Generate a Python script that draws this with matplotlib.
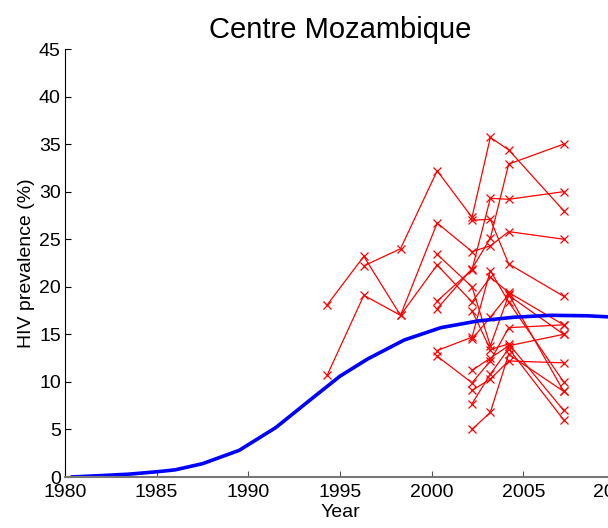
import numpy as np
import matplotlib
matplotlib.use("Agg")
import matplotlib.pyplot as plt

plt.rcParams['font.family'] = ['Liberation Sans', 'DejaVu Sans']

# Model curve (blue)
model_years = [1980.3, 1982, 1983.5, 1985, 1986, 1987.5, 1989.5, 1991.5, 1993.5, 1995,
               1996.5, 1998.5, 2000.5, 2002.5, 2004.5, 2006.5, 2008.5, 2010]
model_prev = [0.0, 0.15, 0.3, 0.55, 0.75, 1.4, 2.8, 5.2, 8.3, 10.6,
              12.4, 14.4, 15.7, 16.4, 16.8, 17.0, 16.95, 16.8]

# Survey years (columns of red points)
survey_years = [1994.3, 1996.3, 1998.3, 2000.3, 2002.2, 2003.2, 2004.2, 2007.2]
nan = None
site_01 = [18.1, 23.2, 17.0, 26.7, 23.7, 24.3, 25.8, 25.0]
site_02 = [10.7, 19.1, 17.0, 22.3, 18.4, 21.0, 19.4, 16.0]
site_03 = [nan, 22.2, 24.0, 32.2, 27.3, 35.7, 34.4, 28.0]
site_04 = [nan, nan, nan, 23.4, 20.0, 13.8, 19.1, 15.0]
site_05 = [nan, nan, nan, 18.5, 21.8, 29.3, 29.2, 30.0]
site_06 = [nan, nan, nan, 17.7, 21.9, 25.1, 32.9, 35.0]
site_07 = [nan, nan, nan, 13.3, 14.7, 21.7, 18.4, 10.0]
site_08 = [nan, nan, nan, 12.7, 9.9, 12.2, 15.7, 16.0]
site_09 = [nan, nan, nan, nan, 27.0, 27.1, 22.4, 19.0]
site_10 = [nan, nan, nan, nan, 17.5, 13.4, 14.0, 7.0]
site_11 = [nan, nan, nan, nan, 7.7, 10.8, 13.5, 6.0]
site_12 = [nan, nan, nan, nan, 5.0, 6.8, 12.9, 9.0]
site_13 = [nan, nan, nan, nan, 9.1, 10.3, 12.2, 12.0]
site_14 = [nan, nan, nan, nan, 14.5, 16.8, 19.2, 9.0]
site_15 = [nan, nan, nan, nan, 11.2, 12.5, 13.8, 15.0]
sites = [site_01, site_02, site_03, site_04, site_05, site_06, site_07, site_08,
         site_09, site_10, site_11, site_12, site_13, site_14, site_15]

xticks = [1980, 1985, 1990, 1995, 2000, 2005, 2010]
yticks = [0, 5, 10, 15, 20, 25, 30, 35, 40, 45]

fig = plt.figure(figsize=(6.08, 5.28), dpi=100)
ax = fig.add_axes([65/608, 1 - 477/528, 550/608, 428/528])

for s in sites:
    xs = [y for y, v in zip(survey_years, s) if v is not None]
    vs = [v for v in s if v is not None]
    ax.plot(xs, vs, color='red', lw=0.9, marker='x', markersize=5.5, mew=0.9)

ax.plot(model_years, model_prev, color='#0000ff', lw=2.6, solid_capstyle='butt')

ax.set_xlim(1980, 2010)
ax.set_ylim(0, 45)
ax.set_xticks(xticks)
ax.set_yticks(yticks)
ax.tick_params(direction='in', length=4, labelsize=14, width=0.8)
ax.tick_params(axis='x', colors='#555555', labelcolor='black', pad=5)
ax.tick_params(axis='y', pad=3)
ax.spines['top'].set_visible(False)
ax.spines['right'].set_visible(False)
ax.spines['bottom'].set_color('#777777')
ax.spines['bottom'].set_linewidth(1.5)
ax.set_xlabel('Year', fontsize=14, labelpad=2)
ax.set_ylabel('HIV prevalence (%)', fontsize=14, labelpad=3)
ax.set_title('Centre Mozambique', fontsize=21, pad=8)

fig.savefig('out.png', dpi=100)
